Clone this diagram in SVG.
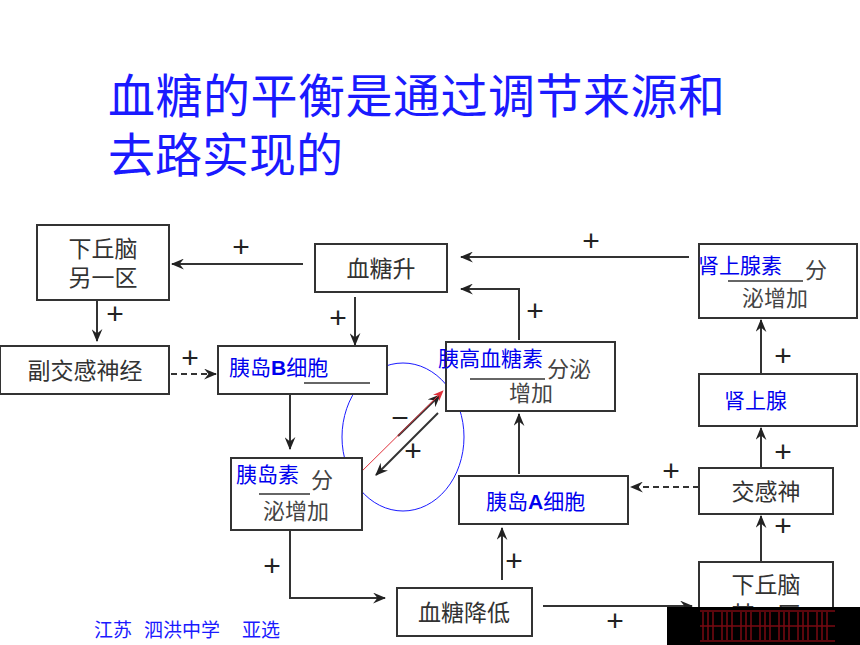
<svg xmlns="http://www.w3.org/2000/svg" width="860" height="645" viewBox="0 0 860 645">
<defs>
<style>
.box{fill:#fff;stroke:#333;stroke-width:2}
.ln{fill:none;stroke:#333;stroke-width:2}
.dash{fill:none;stroke:#333;stroke-width:2;stroke-dasharray:6 4}
.t{font-family:"Noto Sans CJK SC","Noto Sans",sans-serif;font-size:23px;fill:#333;text-anchor:middle}
.s{font-family:"Noto Sans CJK SC","Noto Sans",sans-serif;font-size:22px;fill:#444;text-anchor:middle}
.b{font-family:"Noto Sans CJK SC","Liberation Sans",sans-serif;font-size:21px;fill:#0000ee}
.p{font-family:"Liberation Sans",sans-serif;font-size:30px;fill:#222;text-anchor:middle}
.title{font-family:"Noto Sans CJK SC",serif;font-size:47px;fill:#1a1aff}
</style>
<marker id="ah" viewBox="0 0 12 10" refX="11" refY="5" markerWidth="13" markerHeight="11" markerUnits="userSpaceOnUse" orient="auto">
<path d="M0,0 L12,5 L0,10 L4,5 Z" fill="#222"/>
</marker>
<marker id="ahr" viewBox="0 0 12 10" refX="11" refY="5" markerWidth="11" markerHeight="9" markerUnits="userSpaceOnUse" orient="auto">
<path d="M0,0 L12,5 L0,10 L4,5 Z" fill="#e0303a"/>
</marker>
</defs>
<rect width="860" height="645" fill="#fff"/>
<g id="title">
<text class="title" x="108" y="113" textLength="617">血糖的平衡是通过调节来源和</text>
<text class="title" x="108" y="172">去路实现的</text>
</g>
<g id="connectors">
<line class="ln" x1="303" y1="264" x2="172" y2="264" marker-end="url(#ah)"/>
<text class="p" x="241" y="257">+</text>
<line class="ln" x1="97" y1="301" x2="97" y2="341" marker-end="url(#ah)"/>
<text class="p" x="115" y="324">+</text>
<line class="ln" x1="355" y1="297" x2="355" y2="345" marker-end="url(#ah)"/>
<text class="p" x="338" y="328">+</text>
<line class="dash" x1="171" y1="374" x2="216" y2="374" marker-end="url(#ah)"/>
<text class="p" x="190" y="368">+</text>
<line class="ln" x1="689" y1="257" x2="461" y2="257" marker-end="url(#ah)"/>
<text class="p" x="591" y="251">+</text>
<polyline class="ln" points="519,340 519,289 461,289" marker-end="url(#ah)"/>
<text class="p" x="535" y="321">+</text>
<line class="ln" x1="761" y1="373" x2="761" y2="320" marker-end="url(#ah)"/>
<text class="p" x="783" y="366">+</text>
<line class="ln" x1="290" y1="394" x2="290" y2="449" marker-end="url(#ah)"/>
<line class="ln" x1="519" y1="474" x2="519" y2="414" marker-end="url(#ah)"/>
<line class="ln" x1="398" y1="436" x2="440" y2="395" marker-end="url(#ah)"/>
<line class="ln" x1="438" y1="413" x2="376" y2="475" marker-end="url(#ah)"/>
<line x1="356" y1="477" x2="443" y2="391" stroke="#e0303a" stroke-width="1" marker-end="url(#ahr)"/>
<text class="p" x="400" y="428">−</text>
<text class="p" x="413" y="461">+</text>
<ellipse cx="403" cy="437" rx="61" ry="74" fill="none" stroke="#1a1aff" stroke-width="1"/>
<polyline class="ln" points="290,531 290,598 385,598" marker-end="url(#ah)"/>
<text class="p" x="272" y="576">+</text>
<line class="ln" x1="502" y1="580" x2="502" y2="528" marker-end="url(#ah)"/>
<text class="p" x="514" y="571">+</text>
<line class="ln" x1="543" y1="606" x2="692" y2="606" marker-end="url(#ah)"/>
<text class="p" x="615" y="631">+</text>
<line class="ln" x1="761" y1="562" x2="761" y2="516" marker-end="url(#ah)"/>
<text class="p" x="783" y="536">+</text>
<line class="ln" x1="761" y1="468" x2="761" y2="428" marker-end="url(#ah)"/>
<text class="p" x="783" y="462">+</text>
<line class="dash" x1="699" y1="487" x2="631" y2="487" marker-end="url(#ah)"/>
<text class="p" x="671" y="481">+</text>
</g>
<g id="n_hypo_other">
<rect class="box" x="37" y="225" width="132" height="75"/>
<text class="t" x="103" y="257">下丘脑</text>
<text class="t" x="103" y="286">另一区</text>
</g>
<g id="n_bg_up">
<rect class="box" x="315" y="244" width="132" height="48"/>
<text class="t" x="381" y="277">血糖升</text>
</g>
<g id="n_parasym">
<rect class="box" x="0" y="346" width="169" height="48"/>
<text class="t" x="85" y="379">副交感神经</text>
</g>
<g id="n_beta">
<rect class="box" x="218" y="346" width="169" height="48"/>
<text class="b" x="229" y="375">胰岛<tspan font-weight="bold" font-family="Liberation Sans,sans-serif">B</tspan>细胞</text>
<line x1="304" y1="383" x2="370" y2="383" stroke="#333" stroke-width="1.5"/>
</g>
<g id="n_adrenaline">
<rect class="box" x="699" y="244" width="158" height="74"/>
<text class="b" x="698" y="273">肾上腺素</text>
<text class="s" x="816" y="278">分</text>
<line x1="728" y1="281" x2="803" y2="281" stroke="#333" stroke-width="1.5"/>
<text class="s" x="775" y="306">泌增加</text>
</g>
<g id="n_glucagon">
<rect class="box" x="446" y="342" width="169" height="69"/>
<text class="b" x="438" y="366">胰高血糖素</text>
<text class="s" x="569" y="377">分泌</text>
<line x1="470" y1="379" x2="545" y2="379" stroke="#333" stroke-width="1.5"/>
<text class="s" x="531" y="401">增加</text>
</g>
<g id="n_adrenal">
<rect class="box" x="699" y="374" width="158" height="52"/>
<text class="b" x="724" y="408">肾上腺</text>
</g>
<g id="n_insulin">
<rect class="box" x="231" y="458" width="131" height="72"/>
<text class="b" x="236" y="482">胰岛素</text>
<text class="s" x="322" y="488">分</text>
<line x1="259" y1="494" x2="310" y2="494" stroke="#333" stroke-width="1.5"/>
<text class="s" x="296" y="519">泌增加</text>
</g>
<g id="n_alpha">
<rect class="box" x="459" y="476" width="169" height="48"/>
<text class="b" x="486" y="509">胰岛<tspan font-weight="bold" font-family="Liberation Sans,sans-serif">A</tspan>细胞</text>
</g>
<g id="n_sym">
<rect class="box" x="699" y="468" width="134" height="46"/>
<text class="t" x="766" y="500">交感神</text>
</g>
<g id="n_bg_down">
<rect class="box" x="397" y="588" width="135" height="48"/>
<text class="t" x="464" y="621">血糖降低</text>
</g>
<g id="n_hypo_some">
<rect class="box" x="699" y="562" width="134" height="80"/>
<text class="t" x="766" y="593">下丘脑</text>
<text class="t" x="766" y="623">某一区</text>
</g>
<g id="overlay">
<rect x="667" y="607" width="193" height="38" fill="#000"/>
<g stroke="#7a0a12" stroke-width="1.5" fill="none">
<path d="M703,612 V640 M708,612 V640 M713,612 V640 M722,612 V640 M727,612 V640 M732,612 V640 M741,612 V640 M746,612 V640 M751,612 V640 M760,612 V640 M765,612 V640 M770,612 V640 M779,612 V640 M784,612 V640 M789,612 V640 M798,612 V640 M803,612 V640 M808,612 V640 M817,612 V640 M822,612 V640 M827,612 V640"/>
<path d="M700,611 H835 M700,626 H835 M700,641 H835"/>
</g>
</g>
<g id="footer" font-family="Noto Sans CJK SC,serif" font-size="19" fill="#1a1aff">
<text x="94" y="637">江苏</text>
<text x="144" y="637">泗洪中学</text>
<text x="242" y="637">亚选</text>
</g>
</svg>
